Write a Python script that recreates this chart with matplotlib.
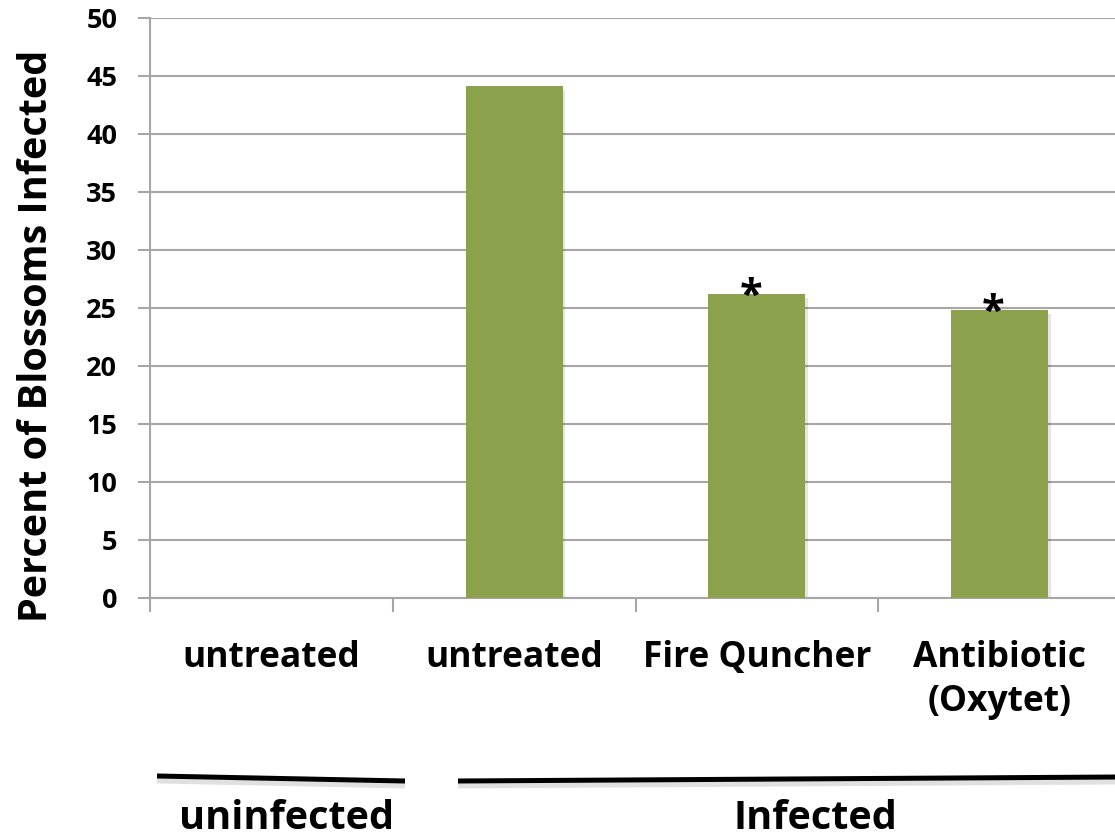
import matplotlib
matplotlib.use("Agg")
import matplotlib.pyplot as plt
import numpy as np

categories = ["untreated", "untreated", "Fire Quncher", "Antibiotic\n(Oxytet)"]
values = [0.0, 44.1, 26.2, 24.8]
significant = [False, False, True, True]
yticks = [0, 5, 10, 15, 20, 25, 30, 35, 40, 45, 50]
groups = ["uninfected", "Infected"]
ylabel = "Percent of Blossoms Infected"

W, H = 1115, 839
fig = plt.figure(figsize=(W / 100, H / 100), dpi=100)
ax_left, ax_right, ax_top, ax_bot = 150, 1121, 18, 598
ax = fig.add_axes([ax_left / W, 1 - ax_bot / H, (ax_right - ax_left) / W, (ax_bot - ax_top) / H])

font = "Open Sans"
bar_color = "#8BA14C"
grid_color = "#A6A6A6"

x = np.arange(len(categories))
# subtle shadow
ax.bar(x + 0.01, values, width=0.4, bottom=-0.3, color="#000000", alpha=0.10, zorder=2)
ax.bar(x, values, width=0.4, color=bar_color, zorder=3)

ax.set_xlim(-0.5, len(categories) - 0.5)
ax.set_ylim(0, 50)
ax.set_yticks(yticks)
ax.set_yticklabels([str(t) for t in yticks], fontfamily=font, fontweight="bold", fontsize=19.5)
ax.yaxis.grid(True, color=grid_color, linewidth=1.5, zorder=0)
ax.set_axisbelow(True)

ax.set_xticks(np.arange(len(categories) + 1) - 0.5)
ax.set_xticklabels([])
ax.tick_params(axis="x", length=10, width=1.5, color=grid_color, direction="out")
ax.tick_params(axis="y", length=8.6, width=1.5, color=grid_color, direction="out", pad=15)

for s in ["top", "right"]:
    ax.spines[s].set_visible(False)
for s in ["left", "bottom"]:
    ax.spines[s].set_color(grid_color)
    ax.spines[s].set_linewidth(1.5)

for xi, lab in zip(x, categories):
    ax.annotate(lab, xy=(xi, 0), xycoords="data", xytext=(0, -30), textcoords="offset points",
                ha="center", va="top", fontfamily=font, fontweight="bold", fontsize=25.5,
                linespacing=1.3, annotation_clip=False)

for xi, v, sig in zip(x, values, significant):
    if sig:
        ax.annotate("*", xy=(xi, v), xytext=(-4.5, -10), textcoords="offset points",
                    ha="center", va="baseline", fontfamily=font, fontweight="bold",
                    fontsize=30, annotation_clip=False)

fig.text(37 / W, 1 - 336 / H, ylabel, rotation=90, ha="center", va="center",
         fontfamily=font, fontweight="bold", fontsize=28.5)

# group brackets
lines = [((157, 776), (405, 781)), ((458, 781), (1118, 777))]
for (x0, y0), (x1, y1) in lines:
    fig.add_artist(plt.Line2D([x0 / W, x1 / W], [1 - (y0 + 4) / H, 1 - (y1 + 4) / H],
                              color="#000000", alpha=0.12, linewidth=5, solid_capstyle="butt",
                              transform=fig.transFigure))
    fig.add_artist(plt.Line2D([x0 / W, x1 / W], [1 - y0 / H, 1 - y1 / H],
                              color="#000000", linewidth=3.6, solid_capstyle="butt",
                              transform=fig.transFigure))

fig.text(287 / W, 1 - 838 / H, groups[0], ha="center", va="bottom",
         fontfamily=font, fontweight="bold", fontsize=28.5)
fig.text(815 / W, 1 - 838 / H, groups[1], ha="center", va="bottom",
         fontfamily=font, fontweight="bold", fontsize=28.5)

fig.savefig("out.png", dpi=100)
